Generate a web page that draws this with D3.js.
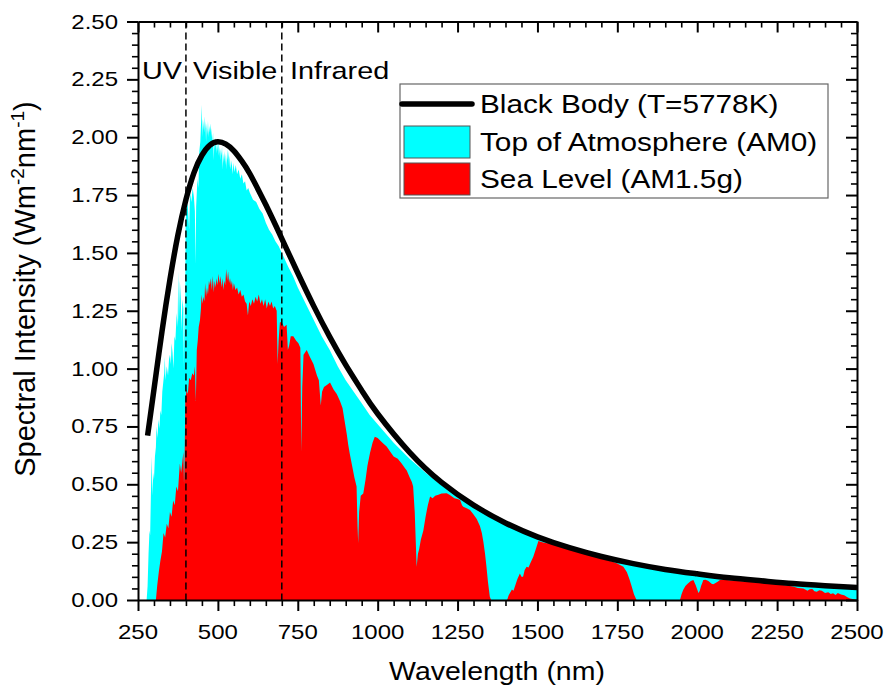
<!DOCTYPE html>
<html>
<head>
<meta charset="utf-8">
<script src="https://cdn.jsdelivr.net/npm/d3@7"></script>
<style>
  body { margin: 0; background: #fff; }
  svg { display: block; }
  text { font-family: "Liberation Sans", Arial, sans-serif; fill: #000; }
</style>
</head>
<body>
<svg width="887" height="691"></svg>
<script>
// tick values
const xTicks = [250, 500, 750, 1000, 1250, 1500, 1750, 2000, 2250, 2500];
const yTicks = [0, 0.25, 0.5, 0.75, 1.0, 1.25, 1.5, 1.75, 2.0, 2.25, 2.5];

// black body curve, T = 5778 K  [wavelength nm, W m^-2 nm^-1]
const blackBody = [
  [280,0.71],[300,0.91],[325,1.16],[350,1.385],[375,1.578],[400,1.73],[425,1.846],[450,1.922],
  [475,1.966],[500,1.98],[525,1.97],[550,1.941],[575,1.897],[600,1.842],[650,1.708],[700,1.562],
  [750,1.413],[800,1.27],[850,1.137],[900,1.016],[950,0.906],[1000,0.805],[1100,0.638],[1200,0.508],
  [1300,0.41],[1400,0.333],[1500,0.273],[1600,0.226],[1700,0.188],[1800,0.157],[1900,0.132],
  [2000,0.113],[2100,0.096],[2200,0.083],[2300,0.071],[2400,0.062],[2500,0.054]
];

// top of atmosphere (AM0)
const am0 = [
  [277,0],[280,0.06],[283,0.2],[286,0.3],[288,0.28],[291,0.5],[293,0.62],[295,0.45],[298,0.55],[300,0.52],
  [303,0.62],[306,0.66],[308,0.75],[311,0.7],[314,0.78],[317,0.74],[320,0.82],[323,0.8],[326,0.9],[329,0.94],
  [332,0.98],[334,1.05],[336,0.95],[340,1.01],[344,0.97],[347,1.04],[350,1.06],[353,1.02],[355,1.11],[358,1.07],
  [361,1.0],[364,1.14],[367,1.12],[371,1.24],[374,1.18],[376,1.42],[378,1.2],[381,1.38],[384,1.3],[386,1.16],
  [389,1.3],[392,1.26],[393,1.0],[395,1.3],[397,1.05],[399,1.62],[402,1.72],[406,1.7],[410,1.6],[413,1.76],
  [417,1.72],[421,1.78],[425,1.74],[428,1.68],[430,1.45],[432,1.7],[436,1.82],[439,1.78],[442,1.94],[445,1.98],
  [447,2.05],[449,2.14],[451,2.0],[453,2.08],[455,2.03],[457,2.09],[459,2.02],[461,2.07],[463,1.98],[465,2.06],
  [467,2.01],[469,2.07],[471,2.0],[473,2.05],[475,2.02],[477,2.06],[479,2.0],[481,2.04],[483,1.97],[485,2.02],
  [487,1.9],[489,1.98],[491,1.95],[493,2.0],[495,1.93],[497,1.98],[499,1.94],[501,1.99],[503,1.92],[505,1.96],
  [507,1.9],[509,1.95],[511,1.92],[513,1.96],[515,1.86],[517,1.93],[519,1.89],[521,1.94],[523,1.88],[525,1.93],
  [527,1.86],[529,1.95],[531,1.9],[533,1.94],[535,1.87],[537,1.92],[540,1.86],[543,1.9],[546,1.84],[549,1.89],
  [552,1.85],[556,1.88],[560,1.84],[565,1.86],[570,1.82],[575,1.84],[580,1.8],[585,1.81],[590,1.77],[595,1.78],
  [600,1.76],[610,1.73],[620,1.72],[630,1.69],[640,1.67],[650,1.63],[660,1.6],[670,1.58],[680,1.55],[690,1.53],
  [700,1.5],[710,1.47],[720,1.44],[735,1.4],[750,1.35],[775,1.28],[800,1.21],[825,1.14],[850,1.08],[875,1.01],
  [900,0.95],[925,0.9],[950,0.85],[975,0.8],[1000,0.76],[1050,0.68],[1100,0.61],[1150,0.55],[1200,0.495],
  [1250,0.45],[1300,0.405],[1350,0.365],[1400,0.33],[1450,0.3],[1500,0.27],[1550,0.245],[1600,0.225],
  [1650,0.205],[1700,0.187],[1750,0.17],[1800,0.156],[1850,0.144],[1900,0.133],[1950,0.122],[2000,0.113],
  [2100,0.097],[2200,0.083],[2300,0.071],[2400,0.062],[2500,0.054]
];

// sea level (AM1.5g)
const am15 = [
  [306,0],[310,0.06],[315,0.12],[320,0.17],[325,0.21],[330,0.29],[335,0.27],[340,0.33],[345,0.31],[350,0.38],
  [355,0.36],[360,0.43],[365,0.41],[370,0.49],[375,0.47],[378,0.53],[381,0.59],[385,0.55],[389,0.6],[392,0.64],
  [394,0.5],[396,0.62],[398,0.86],[402,0.91],[406,0.89],[410,0.96],[415,0.95],[420,0.98],[425,0.97],[428,1.01],
  [431,0.86],[434,1.08],[437,1.12],[440,1.18],[444,1.21],[447,1.26],[449,1.32],[452,1.28],[455,1.31],[458,1.29],
  [460,1.37],[463,1.31],[466,1.35],[469,1.32],[472,1.38],[475,1.36],[478,1.39],[481,1.34],[484,1.4],[487,1.33],
  [490,1.38],[493,1.35],[496,1.39],[499,1.36],[502,1.41],[505,1.37],[508,1.4],[511,1.35],[514,1.39],[517,1.34],
  [520,1.38],[523,1.36],[526,1.43],[529,1.38],[532,1.42],[535,1.37],[538,1.39],[541,1.36],[544,1.38],[547,1.34],
  [550,1.37],[555,1.34],[560,1.35],[565,1.32],[570,1.34],[575,1.31],[580,1.32],[585,1.29],[590,1.28],[594,1.23],
  [598,1.29],[603,1.27],[608,1.3],[613,1.28],[618,1.31],[623,1.29],[628,1.32],[633,1.28],[638,1.3],[643,1.27],
  [648,1.3],[653,1.26],[658,1.29],[663,1.27],[668,1.29],[673,1.26],[678,1.27],[684,1.25],[687,1.02],[690,1.12],
  [694,1.2],[700,1.2],[707,1.18],[715,1.19],[719,1.08],[723,1.1],[728,1.14],[736,1.14],[745,1.12],[752,1.11],
  [758,1.09],[761,0.64],[764,0.92],[768,1.06],[778,1.08],[788,1.05],[799,1.02],[810,0.97],[816,0.95],[822,0.84],
  [826,0.9],[832,0.92],[842,0.93],[851,0.94],[862,0.91],[872,0.89],[882,0.86],[890,0.83],[897,0.77],[903,0.72],
  [908,0.67],[913,0.63],[920,0.58],[927,0.53],[934,0.49],[937,0.32],[939,0.245],[942,0.38],[947,0.45],[955,0.46],
  [962,0.52],[968,0.58],[976,0.635],[984,0.68],[991,0.706],[1000,0.7],[1015,0.68],[1028,0.663],[1040,0.64],
  [1050,0.62],[1063,0.61],[1075,0.59],[1085,0.57],[1091,0.56],[1100,0.53],[1107,0.51],[1111,0.49],[1116,0.38],
  [1119,0.26],[1122,0.144],[1126,0.2],[1130,0.22],[1135,0.26],[1143,0.3],[1150,0.36],[1157,0.41],[1164,0.447],
  [1172,0.44],[1180,0.45],[1190,0.455],[1200,0.46],[1216,0.461],[1226,0.454],[1240,0.44],[1250,0.436],
  [1258,0.432],[1264,0.41],[1268,0.403],[1280,0.395],[1289,0.389],[1300,0.37],[1310,0.35],[1320,0.32],
  [1326,0.29],[1331,0.25],[1336,0.2],[1340,0.15],[1345,0.08],[1351,0.014],[1355,0],[1405,0],[1410,0.02],
  [1414,0.03],[1420,0.045],[1425,0.04],[1430,0.06],[1437,0.09],[1445,0.115],[1450,0.1],[1455,0.1],
  [1460,0.13],[1466,0.144],[1472,0.14],[1478,0.16],[1487,0.187],[1495,0.22],[1503,0.255],[1515,0.25],
  [1529,0.245],[1545,0.248],[1560,0.245],[1575,0.242],[1591,0.24],[1610,0.228],[1633,0.216],[1660,0.205],
  [1680,0.195],[1696,0.187],[1720,0.172],[1735,0.165],[1748,0.159],[1760,0.15],[1769,0.144],[1780,0.12],
  [1788,0.09],[1795,0.058],[1802,0.025],[1810,0],[1946,0],[1951,0.025],[1956,0.043],[1963,0.06],[1970,0.07],
  [1980,0.082],[1988,0.086],[1995,0.065],[2000,0.045],[2004,0.03],[2008,0.04],[2012,0.06],[2016,0.075],
  [2019,0.086],[2026,0.087],[2035,0.082],[2045,0.07],[2050,0.068],[2056,0.072],[2065,0.08],[2071,0.086],
  [2085,0.087],[2100,0.085],[2130,0.082],[2165,0.079],[2200,0.074],[2235,0.07],[2269,0.065],[2300,0.058],
  [2315,0.052],[2332,0.05],[2345,0.04],[2352,0.046],[2360,0.048],[2367,0.038],[2374,0.036],[2382,0.042],
  [2390,0.04],[2400,0.03],[2410,0.034],[2418,0.026],[2425,0.029],[2433,0.022],[2440,0.03],[2450,0.024],
  [2460,0.02],[2470,0.012],[2478,0.007],[2490,0.003],[2500,0]
];

// spectral band borders and labels
const bandEdges = [400, 700];
const bandLabels = [
  { text: "UV", at: 142 },
  { text: "Visible", at: 193 },
  { text: "Infrared", at: 290 }
];

const legendItems = [
  { label: "Black Body (T=5778K)", kind: "line", color: "#000" },
  { label: "Top of Atmosphere (AM0)", kind: "rect", color: "#00ffff" },
  { label: "Sea Level (AM1.5g)", kind: "rect", color: "#ff0000" }
];

const svg = d3.select("svg");
const plotLeft = 138, plotRight = 857, plotTop = 21.5, plotBottom = 600;

const x = d3.scaleLinear().domain([250, 2500]).range([plotLeft, plotRight]);
const y = d3.scaleLinear().domain([0, 2.5]).range([plotBottom, plotTop]);

svg.append("defs").append("clipPath").attr("id", "plot")
  .append("rect").attr("x", plotLeft).attr("y", plotTop)
  .attr("width", plotRight - plotLeft).attr("height", plotBottom - plotTop);

const plot = svg.append("g").attr("clip-path", "url(#plot)");

const area = d3.area().x(d => x(d[0])).y0(y(0)).y1(d => y(d[1]));

plot.append("path").datum(am0).attr("d", area).attr("fill", "#00ffff");
plot.append("path").datum(am15).attr("d", area).attr("fill", "#ff0000");

// band separators
plot.selectAll(".band").data(bandEdges).join("line")
  .attr("x1", d => x(d)).attr("x2", d => x(d))
  .attr("y1", plotTop).attr("y2", plotBottom)
  .attr("stroke", "#000").attr("stroke-width", 1.5)
  .attr("stroke-dasharray", "7,4");

plot.append("path").datum(blackBody)
  .attr("d", d3.line().x(d => x(d[0])).y(d => y(d[1])).curve(d3.curveNatural))
  .attr("fill", "none").attr("stroke", "#000").attr("stroke-width", 5.5);

// band labels (text in the reference is drawn wider than normal)
svg.selectAll(".bandLabel").data(bandLabels).join("text")
  .attr("transform", d => `translate(${d.at},79) scale(1.2,1)`)
  .attr("font-size", 24)
  .text(d => d.text);

// axes: major and minor ticks on all four sides
const xMinor = d3.range(250, 2501, 50).filter(v => v % 250 !== 0);
const yMinor = d3.range(0, 51, 1).map(v => v / 20).filter(v => Math.round(v * 100) % 25 !== 0);

function frame(axisFn, scale, pos, major, minor, size) {
  const g = svg.append("g").attr("transform", pos);
  g.call(axisFn(scale).tickValues(major).tickSize(size).tickSizeOuter(0).tickFormat(""));
  g.selectAll(".tick line").attr("stroke-width", 2);
  g.select(".domain").attr("stroke-width", 2);
  const m = svg.append("g").attr("transform", pos);
  m.call(axisFn(scale).tickValues(minor).tickSize(size * 0.55).tickSizeOuter(0).tickFormat(""));
  m.select(".domain").remove();
  m.selectAll(".tick line").attr("stroke-width", 1.6);
  return g;
}

frame(d3.axisBottom, x, `translate(0,${plotBottom})`, xTicks, xMinor, 11);
frame(d3.axisTop, x, `translate(0,${plotTop})`, xTicks, xMinor, -11);
frame(d3.axisLeft, y, `translate(${plotLeft},0)`, yTicks, yMinor, 11);
frame(d3.axisRight, y, `translate(${plotRight},0)`, yTicks, yMinor, -11);

// tick labels
svg.selectAll(".xLabel").data(xTicks).join("text")
  .attr("transform", d => `translate(${x(d)},639) scale(1.2,1)`)
  .attr("text-anchor", "middle").attr("font-size", 20)
  .text(d => d);

svg.selectAll(".yLabel").data(yTicks).join("text")
  .attr("transform", d => `translate(118,${y(d) + 7}) scale(1.2,1)`)
  .attr("text-anchor", "end").attr("font-size", 20)
  .text(d3.format(".2f"));

// axis titles
svg.append("text")
  .attr("transform", "translate(497,680) scale(1.14,1)")
  .attr("text-anchor", "middle").attr("font-size", 25)
  .text("Wavelength (nm)");

const yTitle = svg.append("text")
  .attr("transform", "translate(35,289) rotate(-90)")
  .attr("text-anchor", "middle").attr("font-size", 29);
yTitle.append("tspan").text("Spectral Intensity (Wm");
yTitle.append("tspan").attr("dy", -11).attr("font-size", 19).text("-2");
yTitle.append("tspan").attr("dy", 11).text("nm");
yTitle.append("tspan").attr("dy", -11).attr("font-size", 19).text("-1");
yTitle.append("tspan").attr("dy", 11).text(")");

// legend
const legend = svg.append("g");
legend.append("rect")
  .attr("x", 400).attr("y", 84).attr("width", 428).attr("height", 114)
  .attr("fill", "#fff").attr("stroke", "#666").attr("stroke-width", 1.2);

const rowY = [104, 142, 179];
legendItems.forEach((item, i) => {
  const cy = rowY[i];
  if (item.kind === "line") {
    legend.append("line")
      .attr("x1", 402).attr("x2", 472).attr("y1", cy).attr("y2", cy)
      .attr("stroke", item.color).attr("stroke-width", 5.5).attr("stroke-linecap", "round");
  } else {
    legend.append("rect")
      .attr("x", 404).attr("y", cy - 16).attr("width", 66).attr("height", 32)
      .attr("fill", item.color).attr("stroke", "#555").attr("stroke-width", 1);
  }
  legend.append("text")
    .attr("transform", `translate(480,${cy + 9}) scale(1.19,1)`)
    .attr("font-size", 25)
    .text(item.label);
});
</script>
</body>
</html>
